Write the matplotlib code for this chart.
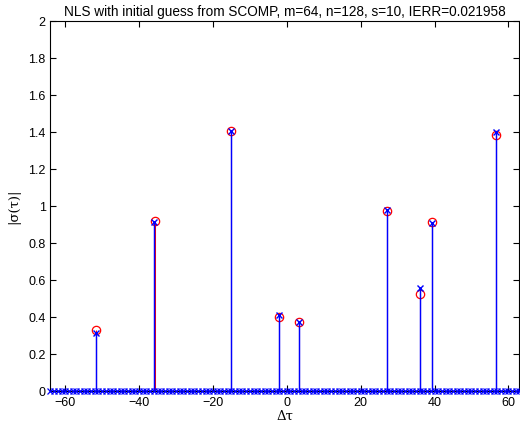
import numpy as np
import matplotlib
matplotlib.use("Agg")
import matplotlib.pyplot as plt

# true spikes (red circles)
true_tau = [-51.55, -35.75, -15.0, -2.15, 3.25, 27.0, 36.1, 39.3, 56.6]
true_amp = [0.33, 0.915, 1.405, 0.40, 0.37, 0.97, 0.525, 0.91, 1.38]
# estimated spikes (blue x)
est_tau = [-51.6, -36.0, -15.0, -2.2, 3.2, 27.0, 36.0, 39.3, 56.55]
est_amp = [0.31, 0.91, 1.405, 0.41, 0.37, 0.975, 0.555, 0.905, 1.40]
# zero grid of the estimate
grid_tau = list(range(-64, 64))
grid_amp = [0.0] * len(grid_tau)

title = "NLS with initial guess from SCOMP, m=64, n=128, s=10, IERR=0.021958"
xticks = [-60, -40, -20, 0, 20, 40, 60]
yticks = [0, 0.2, 0.4, 0.6, 0.8, 1, 1.2, 1.4, 1.6, 1.8, 2]

plt.rcParams['font.family'] = ['Liberation Sans', 'DejaVu Sans']
fig = plt.figure(figsize=(5.2, 4.31), dpi=100)
ax = fig.add_axes([0.097, 0.091, 0.902, 0.859])

ax.axhline(0, color='black', lw=1, zorder=1)
ax.vlines(true_tau, 0, true_amp, colors='red', lw=0.75, zorder=2, snap=True)
ax.plot(true_tau, true_amp, 'o', mfc='none', mec='red', ms=6, mew=0.9, zorder=3)
ax.vlines(est_tau, 0, est_amp, colors='blue', lw=1.05, zorder=4, snap=True)
ax.plot(est_tau, est_amp, 'x', color='blue', ms=5, mew=1, zorder=5)
ax.plot(grid_tau, grid_amp, 'x', color='blue', ms=4.5, mew=0.9, zorder=5, clip_on=False)

ax.set_xlim(-64, 63)
ax.set_ylim(0, 2)
ax.set_xticks(xticks)
ax.set_yticks(yticks)
ax.set_yticklabels(['0', '0.2', '0.4', '0.6', '0.8', '1', '1.2', '1.4', '1.6', '1.8', '2'])
ax.tick_params(direction='in', top=True, right=True, labelsize=9, length=4, width=0.8)
for s in ax.spines.values():
    s.set_linewidth(0.8)
ax.set_title(title, fontsize=9.8, pad=4)
ax.set_xlabel('Δτ', fontsize=9.5, family=['DejaVu Serif'], labelpad=1)
ax.set_ylabel('|σ(τ)|', fontsize=9.5, family=['DejaVu Serif'], labelpad=6)

fig.savefig('out.png', dpi=100)
